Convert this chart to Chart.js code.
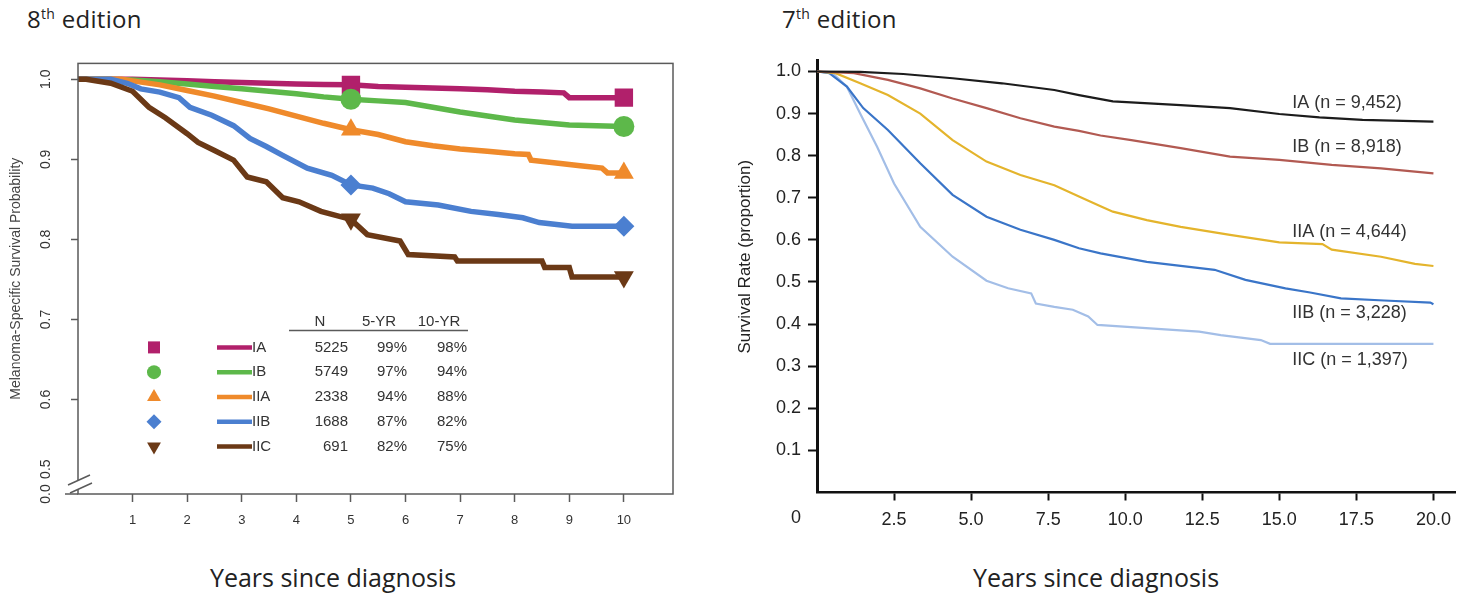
<!DOCTYPE html>
<html lang="en">
<head>
<meta charset="UTF-8">
<title>Melanoma survival, 8th vs 7th edition</title>
<script src="https://cdn.jsdelivr.net/npm/chart.js@4.4.1/dist/chart.umd.min.js"></script>
<style>
  body { margin: 0; width: 1470px; height: 602px; background: #fff; position: relative; overflow: hidden; font-family: "Open Sans", sans-serif; }
  .title { position: absolute; top: 3px; font-size: 24px; line-height: 32px; color: #222; letter-spacing: 0.3px; }
  .title sup { font-size: 14px; line-height: 0; }
  .xlabel { position: absolute; top: 560px; font-size: 25px; line-height: 34px; color: #222; transform: translateX(-50%); white-space: nowrap; }
  .box { position: absolute; top: 40px; height: 500px; }
</style>
</head>
<body>
<div class="title" style="left:27px">8<sup>th</sup> edition</div>
<div class="title" style="left:782px">7<sup>th</sup> edition</div>
<div class="box" style="left:0;width:700px"><canvas id="ed8"></canvas></div>
<div class="box" style="left:720px;width:750px"><canvas id="ed7"></canvas></div>
<div class="xlabel" style="left:333px">Years since diagnosis</div>
<div class="xlabel" style="left:1096px">Years since diagnosis</div>
<script>
// ---------- 8th edition: melanoma-specific survival, 0-10 yrs ----------
const stages = ['IA', 'IB', 'IIA', 'IIB', 'IIC'];
const n8 = ['5225', '5749', '2338', '1688', '691'];
const yr5 = ['99%', '97%', '94%', '87%', '82%'];
const yr10 = ['98%', '94%', '88%', '82%', '75%'];

const t8IA = [0, 1.0, 1.5, 2.0, 2.5, 3.0, 3.5, 4.0, 4.5, 5, 5.5, 6.0, 6.5, 7.0, 7.5, 8.0, 8.5, 8.9, 9.0, 10];
const s8IA = [1, 1, 0.999, 0.998, 0.997, 0.996, 0.995, 0.994, 0.9935, 0.993, 0.991, 0.990, 0.989, 0.988, 0.987, 0.985, 0.984, 0.983, 0.977, 0.977];

const t8IB = [0, 0.5, 1, 1.5, 2, 2.5, 3, 3.5, 4, 4.5, 5, 5.5, 6, 6.5, 7, 7.5, 8, 8.5, 9, 9.5, 10];
const s8IB = [1, 1, 0.999, 0.997, 0.994, 0.991, 0.988, 0.985, 0.982, 0.978, 0.975, 0.973, 0.971, 0.965, 0.959, 0.954, 0.949, 0.946, 0.943, 0.942, 0.941];

const t8IIA = [0, 0.8, 1, 1.5, 2, 2.5, 3, 3.5, 4, 4.5, 5, 5.5, 6, 6.5, 7, 7.5, 8, 8.25, 8.3, 8.8, 9.2, 9.6, 9.7, 10];
const s8IIA = [1, 1, 0.998, 0.993, 0.986, 0.979, 0.971, 0.963, 0.954, 0.945, 0.937, 0.931, 0.922, 0.917, 0.913, 0.910, 0.907, 0.906, 0.899, 0.895, 0.892, 0.889, 0.883, 0.883];

const t8IIB = [0, 0.6, 0.9, 1.15, 1.5, 1.85, 2.05, 2.45, 2.85, 3.15, 3.45, 3.75, 4.2, 4.65, 5, 5.4, 5.7, 6.0, 6.6, 7.2, 7.7, 8.15, 8.45, 9.05, 10];
const s8IIB = [1, 1, 0.995, 0.988, 0.984, 0.977, 0.965, 0.955, 0.942, 0.926, 0.916, 0.905, 0.889, 0.880, 0.868, 0.864, 0.857, 0.847, 0.843, 0.835, 0.831, 0.827, 0.821, 0.8165, 0.8165];

const t8IIC = [0, 0.15, 0.6, 1.0, 1.3, 1.6, 2.0, 2.2, 2.5, 2.85, 3.1, 3.45, 3.75, 4.05, 4.45, 5, 5.3, 5.9, 6.05, 6.9, 6.95, 8.5, 8.55, 9.0, 9.05, 10];
const s8IIC = [1, 1, 0.995, 0.985, 0.965, 0.952, 0.932, 0.921, 0.911, 0.899, 0.878, 0.872, 0.852, 0.847, 0.835, 0.825, 0.806, 0.798, 0.781, 0.778, 0.773, 0.773, 0.765, 0.765, 0.753, 0.753];

const markYears8 = [5, 10];
const xTicks8 = [1, 2, 3, 4, 5, 6, 7, 8, 9, 10];
// axis is broken below 0.6: the "0.5" and "0.0" labels sit on the short stub
const yTicks8 = [0.482, 0.513, 0.6, 0.7, 0.8, 0.9, 1.0];
const yTickLabels8 = ['0.0', '0.5', '0.6', '0.7', '0.8', '0.9', '1.0'];

// ---------- 7th edition: survival rate, 0-20 yrs ----------
const labels7 = ['IA (n = 9,452)', 'IB (n = 8,918)', 'IIA (n = 4,644)', 'IIB (n = 3,228)', 'IIC (n = 1,397)'];

const t7IA = [0, 1.4, 2.8, 4.4, 6.0, 7.7, 8.5, 9.6, 11.8, 13.4, 15.0, 16.3, 17.7, 20];
const s7IA = [1, 0.999, 0.994, 0.984, 0.972, 0.956, 0.944, 0.929, 0.920, 0.913, 0.899, 0.891, 0.885, 0.881];

const t7IB = [0, 1.2, 2.3, 3.35, 4.4, 5.5, 6.6, 7.7, 8.5, 9.2, 10.2, 11.8, 13.4, 15.0, 16.7, 18.3, 19.4, 20];
const s7IB = [1, 0.996, 0.980, 0.960, 0.936, 0.913, 0.889, 0.869, 0.859, 0.848, 0.837, 0.818, 0.798, 0.790, 0.778, 0.770, 0.762, 0.758];

const t7IIA = [0, 0.6, 1.4, 2.3, 3.35, 4.4, 5.5, 6.6, 7.7, 8.5, 9.2, 9.6, 10.7, 11.8, 13.4, 15.0, 16.4, 16.7, 18.3, 19.4, 20];
const s7IIA = [1, 0.996, 0.972, 0.944, 0.900, 0.837, 0.786, 0.754, 0.730, 0.703, 0.680, 0.667, 0.647, 0.631, 0.612, 0.594, 0.590, 0.577, 0.560, 0.543, 0.538];

const t7IIB = [0, 0.4, 0.97, 1.5, 2.3, 3.35, 4.4, 5.5, 6.6, 7.7, 8.5, 9.2, 10.7, 12.9, 13.9, 15.2, 16.0, 17.0, 18.4, 19.9, 20];
const s7IIB = [1, 0.996, 0.964, 0.913, 0.861, 0.782, 0.707, 0.655, 0.624, 0.600, 0.580, 0.568, 0.548, 0.529, 0.505, 0.485, 0.475, 0.461, 0.456, 0.451, 0.447];

const t7IIC = [0, 0.5, 0.97, 1.4, 1.95, 2.5, 3.35, 4.4, 5.5, 6.2, 6.95, 7.1, 7.7, 8.3, 8.8, 9.1, 10.8, 12.4, 13.1, 14.4, 14.7, 20];
const s7IIC = [1, 0.996, 0.964, 0.900, 0.821, 0.734, 0.631, 0.560, 0.503, 0.485, 0.473, 0.449, 0.441, 0.434, 0.418, 0.398, 0.390, 0.382, 0.374, 0.362, 0.353, 0.353];

const xTicks7 = [2.5, 5, 7.5, 10, 12.5, 15, 17.5, 20];
const yTicks7 = [0.1, 0.2, 0.3, 0.4, 0.5, 0.6, 0.7, 0.8, 0.9, 1.0];

// ---------- styling ----------
const font = 'Liberation Sans, Arial, sans-serif';
const colors8 = ['#b1206b', '#5db84a', '#ef8a2b', '#4b7fd0', '#6b3916'];
const marker8 = [
  { style: 'rect', rot: 0, r: 13, lr: 8.5 },
  { style: 'circle', rot: 0, r: 10.5, lr: 7 },
  { style: 'triangle', rot: 0, r: 11.5, lr: 8 },
  { style: 'rectRot', rot: 0, r: 10.5, lr: 7.5 },
  { style: 'triangle', rot: 180, r: 11.5, lr: 8 }
];
const colors7 = ['#1c1c1c', '#b25a52', '#e4b42c', '#3a75c8', '#a3bee7'];
const labelPos7 = [[15.42, 0.925], [15.42, 0.821], [15.42, 0.619], [15.42, 0.426], [15.42, 0.315]];

const xy = (t, s) => t.map((v, i) => ({ x: v, y: s[i] }));
const fixTicks = vals => scale => { scale.ticks = vals.map(v => ({ value: v })); };

const series8 = [[t8IA, s8IA], [t8IB, s8IB], [t8IIA, s8IIA], [t8IIB, s8IIB], [t8IIC, s8IIC]];
const series7 = [[t7IA, s7IA], [t7IB, s7IB], [t7IIA, s7IIA], [t7IIB, s7IIB], [t7IIC, s7IIC]];

// frame, axis break and the N / 5-YR / 10-YR table
const frame8 = {
  id: 'frame8',
  afterDraw(chart) {
    const { ctx, chartArea: a } = chart;
    ctx.save();
    ctx.strokeStyle = '#5a5a5a';
    ctx.lineWidth = 1.5;
    ctx.strokeRect(a.left, a.top, a.right - a.left, a.bottom - a.top);
    ctx.beginPath();
    ctx.moveTo(a.left - 13, a.bottom);
    ctx.lineTo(a.left, a.bottom);
    ctx.stroke();
    // break marks
    ctx.fillStyle = '#fff';
    ctx.beginPath();
    ctx.moveTo(a.left - 10, a.bottom - 9);
    ctx.lineTo(a.left + 12, a.bottom - 19);
    ctx.lineTo(a.left + 14, a.bottom - 11);
    ctx.lineTo(a.left - 8, a.bottom - 1);
    ctx.closePath();
    ctx.fill();
    ctx.beginPath();
    ctx.moveTo(a.left - 10, a.bottom - 9);
    ctx.lineTo(a.left + 12, a.bottom - 19);
    ctx.moveTo(a.left - 8, a.bottom - 1);
    ctx.lineTo(a.left + 14, a.bottom - 11);
    ctx.stroke();

    // table
    const L = a.left, T = a.top;
    ctx.fillStyle = '#333';
    ctx.font = '15px ' + font;
    ctx.textBaseline = 'middle';
    ctx.textAlign = 'center';
    ctx.fillText('N', L + 242, T + 258);
    ctx.fillText('5-YR', L + 301, T + 258);
    ctx.fillText('10-YR', L + 361, T + 258);
    ctx.beginPath();
    ctx.moveTo(L + 211, T + 267);
    ctx.lineTo(L + 390, T + 267);
    ctx.stroke();
    stages.forEach((st, i) => {
      const y = T + 284 + i * 24.75;
      const m = marker8[i];
      ctx.fillStyle = colors8[i];
      ctx.strokeStyle = colors8[i];
      Chart.helpers.drawPoint(ctx, { pointStyle: m.style, rotation: m.rot, radius: m.lr, borderWidth: 0 }, L + 76, y);
      ctx.lineWidth = 4.5;
      ctx.beginPath();
      ctx.moveTo(L + 139, y);
      ctx.lineTo(L + 174, y);
      ctx.stroke();
      ctx.fillStyle = '#333';
      ctx.textAlign = 'left';
      ctx.fillText(st, L + 174, y);
      ctx.textAlign = 'right';
      ctx.fillText(n8[i], L + 270, y);
      ctx.fillText(yr5[i], L + 329, y);
      ctx.fillText(yr10[i], L + 389, y);
    });
    ctx.restore();
  }
};

new Chart(document.getElementById('ed8'), {
  type: 'line',
  data: {
    datasets: series8.map(([t, s], i) => ({
      label: stages[i],
      data: xy(t, s),
      borderColor: colors8[i],
      backgroundColor: colors8[i],
      borderWidth: 5.5,
      tension: 0,
      pointStyle: marker8[i].style,
      rotation: marker8[i].rot,
      pointBorderWidth: 0,
      pointRadius: c => (c.raw && markYears8.includes(c.raw.x)) ? marker8[i].r : 0
    })).reverse()
  },
  options: {
    responsive: true,
    maintainAspectRatio: false,
    animation: false,
    layout: { padding: { top: 17, right: 27, left: 0, bottom: 0 } },
    plugins: { legend: { display: false }, tooltip: { enabled: false } },
    scales: {
      x: {
        type: 'linear', min: 0, max: 10.9,
        afterBuildTicks: fixTicks(xTicks8),
        afterFit: s => { s.height = 46; },
        border: { display: false },
        grid: { drawOnChartArea: false, tickLength: 8, tickColor: '#5a5a5a', tickWidth: 1.5 },
        ticks: { autoSkip: false, maxRotation: 0, padding: 11, color: '#333', font: { family: font, size: 13 } }
      },
      y: {
        type: 'linear', min: 0.482, max: 1.0198,
        afterBuildTicks: fixTicks(yTicks8),
        afterFit: s => { s.width = 78; },
        border: { display: false },
        grid: { drawOnChartArea: false, tickLength: 7, tickWidth: 1.5, tickColor: c => c.index < 2 ? 'rgba(0,0,0,0)' : '#5a5a5a' },
        ticks: { minRotation: 90, maxRotation: 90, crossAlign: 'center', padding: 15, color: '#333', font: { family: font, size: 14 },
          callback: (v, i) => yTickLabels8[i] },
        title: { display: true, text: 'Melanoma-Specific Survival Probability', color: '#444', font: { family: font, size: 14 }, padding: { top: 8, bottom: 0 } }
      }
    }
  },
  plugins: [frame8]
});

// stage labels, y title and the corner "0"
const labels7Plugin = {
  id: 'labels7',
  afterDraw(chart) {
    const { ctx, chartArea: a, scales: { x, y } } = chart;
    ctx.save();
    ctx.fillStyle = '#333';
    ctx.font = '18px ' + font;
    ctx.textBaseline = 'middle';
    ctx.textAlign = 'left';
    labels7.forEach((lb, i) => {
      ctx.fillText(lb, x.getPixelForValue(labelPos7[i][0]), y.getPixelForValue(labelPos7[i][1]));
    });
    ctx.fillStyle = '#222';
    ctx.textAlign = 'center';
    ctx.fillText('0', a.left - 21, a.bottom + 26);
    ctx.font = '17px ' + font;
    ctx.translate(a.left - 72, y.getPixelForValue(0.56));
    ctx.rotate(-Math.PI / 2);
    ctx.fillText('Survival Rate (proportion)', 0, 0);
    ctx.restore();
  }
};

new Chart(document.getElementById('ed7'), {
  type: 'line',
  data: {
    datasets: series7.map(([t, s], i) => ({
      label: labels7[i],
      data: xy(t, s),
      borderColor: colors7[i],
      borderWidth: 2.2,
      tension: 0,
      pointRadius: 0
    }))
  },
  options: {
    responsive: true,
    maintainAspectRatio: false,
    animation: false,
    layout: { padding: { top: 20, right: 15, left: 0, bottom: 0 } },
    plugins: { legend: { display: false }, tooltip: { enabled: false } },
    scales: {
      x: {
        type: 'linear', min: 0, max: 20.7,
        afterBuildTicks: fixTicks(xTicks7),
        afterFit: s => { s.height = 47.5; },
        border: { display: true, color: '#111', width: 2.5 },
        grid: { drawOnChartArea: false, tickLength: 8, tickColor: '#111', tickWidth: 2 },
        ticks: { autoSkip: false, maxRotation: 0, padding: 9, color: '#222', font: { family: font, size: 18 },
          callback: v => v.toFixed(1) }
      },
      y: {
        type: 'linear', min: 0, max: 1.0273,
        afterBuildTicks: fixTicks(yTicks7),
        afterFit: s => { s.width = 97; },
        border: { display: true, color: '#111', width: 3 },
        grid: { drawOnChartArea: false, tickLength: 9, tickColor: '#111', tickWidth: 2 },
        ticks: { padding: 7, color: '#222', font: { family: font, size: 18 }, callback: v => v.toFixed(1) }
      }
    }
  },
  plugins: [labels7Plugin]
});
</script>
</body>
</html>
